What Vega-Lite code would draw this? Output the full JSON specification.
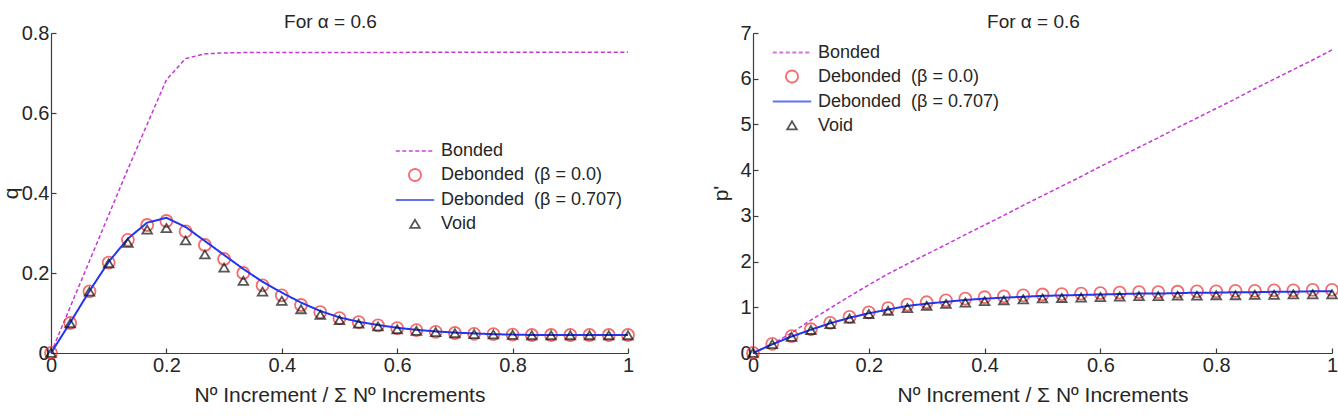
{
  "$schema": "https://vega.github.io/schema/vega-lite/v6.json",
  "padding": {"left": 0, "top": 13, "right": 2, "bottom": 5},
  "config": {
    "font": "Liberation Sans",
    "view": {"stroke": null},
    "axis": {
      "grid": false,
      "domainColor": "#3c3c3c",
      "domainWidth": 1.2,
      "tickColor": "#3c3c3c",
      "tickWidth": 1.2,
      "tickSize": -5,
      "labelFont": "Liberation Sans",
      "labelFontSize": 20,
      "labelColor": "#262626",
      "labelPadding": 7,
      "labelFlush": false,
      "labelOverlap": false,
      "format": "~g",
      "titleFont": "Liberation Sans",
      "titleFontSize": 21,
      "titleFontWeight": "normal",
      "titleColor": "#262626"
    },
    "axisX": {"titlePadding": 9},
    "axisY": {"titlePadding": 0},
    "legend": {
      "labelFont": "Liberation Sans",
      "labelFontSize": 18,
      "labelColor": "#262626",
      "labelOffset": 13,
      "labelLimit": 400,
      "rowPadding": 2,
      "symbolSize": 576,
      "symbolStrokeWidth": 1.8,
      "padding": 0
    },
    "title": {
      "font": "Liberation Sans",
      "fontSize": 19,
      "fontWeight": "normal",
      "color": "#262626",
      "offset": -9,
      "frame": "group",
      "dx": -9
    }
  },
  "datasets": {
    "qSeries": [
      {"x": 0, "b": 0, "d0": 0, "d7": 0, "v": 0},
      {"x": 0.0333, "b": 0.115, "d0": 0.075, "d7": 0.076, "v": 0.074},
      {"x": 0.0667, "b": 0.23, "d0": 0.154, "d7": 0.155, "v": 0.153},
      {"x": 0.1, "b": 0.345, "d0": 0.226, "d7": 0.228, "v": 0.224},
      {"x": 0.1333, "b": 0.46, "d0": 0.283, "d7": 0.286, "v": 0.275},
      {"x": 0.1667, "b": 0.572, "d0": 0.32, "d7": 0.326, "v": 0.308},
      {"x": 0.2, "b": 0.683, "d0": 0.33, "d7": 0.338, "v": 0.312},
      {"x": 0.2333, "b": 0.736, "d0": 0.304, "d7": 0.315, "v": 0.281},
      {"x": 0.2667, "b": 0.748, "d0": 0.27, "d7": 0.28, "v": 0.246},
      {"x": 0.3, "b": 0.75, "d0": 0.235, "d7": 0.245, "v": 0.213},
      {"x": 0.3333, "b": 0.751, "d0": 0.2, "d7": 0.21, "v": 0.18},
      {"x": 0.3667, "b": 0.751, "d0": 0.169, "d7": 0.178, "v": 0.153},
      {"x": 0.4, "b": 0.751, "d0": 0.144, "d7": 0.151, "v": 0.13},
      {"x": 0.4333, "b": 0.751, "d0": 0.12, "d7": 0.126, "v": 0.109},
      {"x": 0.4667, "b": 0.751, "d0": 0.102, "d7": 0.105, "v": 0.095},
      {"x": 0.5, "b": 0.751, "d0": 0.087, "d7": 0.089, "v": 0.082},
      {"x": 0.5333, "b": 0.751, "d0": 0.077, "d7": 0.078, "v": 0.073},
      {"x": 0.5667, "b": 0.751, "d0": 0.069, "d7": 0.07, "v": 0.066},
      {"x": 0.6, "b": 0.751, "d0": 0.062, "d7": 0.063, "v": 0.059},
      {"x": 0.6333, "b": 0.752, "d0": 0.057, "d7": 0.058, "v": 0.055},
      {"x": 0.6667, "b": 0.752, "d0": 0.053, "d7": 0.054, "v": 0.052},
      {"x": 0.7, "b": 0.752, "d0": 0.05, "d7": 0.051, "v": 0.049},
      {"x": 0.7333, "b": 0.752, "d0": 0.048, "d7": 0.049, "v": 0.047},
      {"x": 0.7667, "b": 0.752, "d0": 0.047, "d7": 0.047, "v": 0.046},
      {"x": 0.8, "b": 0.752, "d0": 0.046, "d7": 0.046, "v": 0.045},
      {"x": 0.8333, "b": 0.752, "d0": 0.045, "d7": 0.045, "v": 0.044},
      {"x": 0.8667, "b": 0.752, "d0": 0.045, "d7": 0.045, "v": 0.044},
      {"x": 0.9, "b": 0.752, "d0": 0.045, "d7": 0.045, "v": 0.044},
      {"x": 0.9333, "b": 0.752, "d0": 0.045, "d7": 0.045, "v": 0.044},
      {"x": 0.9667, "b": 0.752, "d0": 0.045, "d7": 0.045, "v": 0.044},
      {"x": 1, "b": 0.752, "d0": 0.045, "d7": 0.045, "v": 0.044}
    ],
    "pSeries": [
      {"x": 0, "b": 0, "d0": 0, "d7": 0, "v": 0},
      {"x": 0.0333, "b": 0.2, "d0": 0.2, "d7": 0.19, "v": 0.19},
      {"x": 0.0667, "b": 0.44, "d0": 0.37, "d7": 0.36, "v": 0.35},
      {"x": 0.1, "b": 0.72, "d0": 0.52, "d7": 0.51, "v": 0.5},
      {"x": 0.1333, "b": 0.98, "d0": 0.66, "d7": 0.65, "v": 0.63},
      {"x": 0.1667, "b": 1.24, "d0": 0.79, "d7": 0.77, "v": 0.75},
      {"x": 0.2, "b": 1.49, "d0": 0.89, "d7": 0.87, "v": 0.85},
      {"x": 0.2333, "b": 1.73, "d0": 0.98, "d7": 0.95, "v": 0.92},
      {"x": 0.2667, "b": 1.95, "d0": 1.06, "d7": 1.03, "v": 0.98},
      {"x": 0.3, "b": 2.16, "d0": 1.11, "d7": 1.08, "v": 1.03},
      {"x": 0.3333, "b": 2.37, "d0": 1.15, "d7": 1.12, "v": 1.07},
      {"x": 0.3667, "b": 2.59, "d0": 1.19, "d7": 1.16, "v": 1.1},
      {"x": 0.4, "b": 2.8, "d0": 1.22, "d7": 1.19, "v": 1.13},
      {"x": 0.4333, "b": 3.01, "d0": 1.24, "d7": 1.21, "v": 1.15},
      {"x": 0.4667, "b": 3.23, "d0": 1.26, "d7": 1.23, "v": 1.17},
      {"x": 0.5, "b": 3.44, "d0": 1.28, "d7": 1.25, "v": 1.19},
      {"x": 0.5333, "b": 3.65, "d0": 1.29, "d7": 1.26, "v": 1.2},
      {"x": 0.5667, "b": 3.86, "d0": 1.3, "d7": 1.27, "v": 1.21},
      {"x": 0.6, "b": 4.08, "d0": 1.31, "d7": 1.28, "v": 1.22},
      {"x": 0.6333, "b": 4.29, "d0": 1.32, "d7": 1.29, "v": 1.23},
      {"x": 0.6667, "b": 4.5, "d0": 1.33, "d7": 1.3, "v": 1.24},
      {"x": 0.7, "b": 4.71, "d0": 1.33, "d7": 1.3, "v": 1.24},
      {"x": 0.7333, "b": 4.93, "d0": 1.34, "d7": 1.31, "v": 1.25},
      {"x": 0.7667, "b": 5.14, "d0": 1.35, "d7": 1.32, "v": 1.25},
      {"x": 0.8, "b": 5.35, "d0": 1.35, "d7": 1.32, "v": 1.26},
      {"x": 0.8333, "b": 5.56, "d0": 1.36, "d7": 1.33, "v": 1.26},
      {"x": 0.8667, "b": 5.78, "d0": 1.36, "d7": 1.33, "v": 1.27},
      {"x": 0.9, "b": 5.99, "d0": 1.37, "d7": 1.34, "v": 1.27},
      {"x": 0.9333, "b": 6.2, "d0": 1.37, "d7": 1.34, "v": 1.28},
      {"x": 0.9667, "b": 6.41, "d0": 1.38, "d7": 1.35, "v": 1.28},
      {"x": 1, "b": 6.63, "d0": 1.38, "d7": 1.35, "v": 1.28}
    ]
  },
  "spacing": 72,
  "resolve": {
    "scale": {"color": "independent", "shape": "independent", "strokeDash": "independent"},
    "legend": {"color": "independent", "shape": "independent", "strokeDash": "independent"}
  },
  "hconcat": [
    {
      "width": 577,
      "height": 320,
      "title": {"text": "For α = 0.6"},
      "data": {"name": "qSeries"},
      "transform": [{"fold": ["b", "d0", "d7", "v"], "as": ["series", "value"]}],
      "encoding": {
        "x": {"field": "x", "type": "quantitative", "scale": {"domain": [0, 1], "nice": false},
              "axis": {"values": [0, 0.2, 0.4, 0.6, 0.8, 1], "title": "Nº Increment / Σ Nº Increments"}},
        "y": {"field": "value", "type": "quantitative", "scale": {"domain": [0, 0.8], "nice": false},
              "axis": {"values": [0, 0.2, 0.4, 0.6, 0.8], "title": "q"}},
        "color": {"field": "series", "type": "nominal",
                  "scale": {"domain": ["b", "d0", "d7", "v"], "range": ["#c638d6", "#f03030", "#2236f0", "#111111"]},
                  "legend": {"title": null, "orient": "none", "legendX": 351, "legendY": 105,
                             "labelExpr": "datum.label === 'b' ? 'Bonded' : datum.label === 'd0' ? 'Debonded\u00a0 (β = 0.0)' : datum.label === 'd7' ? 'Debonded\u00a0 (β = 0.707)' : 'Void'"}}
      },
      "layer": [
        {
          "transform": [{"filter": "datum.series === 'b'"}],
          "mark": {"type": "line", "strokeWidth": 1.5},
          "encoding": {"strokeDash": {"field": "series", "type": "nominal",
            "scale": {"domain": ["b", "d0", "d7", "v"], "range": [[4, 2.5], [1, 0], [1, 0], [1, 0]]},
            "legend": {"title": null, "orient": "none", "legendX": 351, "legendY": 105}}}
        },
        {
          "transform": [{"filter": "datum.series === 'd0'"}],
          "mark": {"type": "point", "filled": false, "strokeWidth": 1.8, "size": 576},
          "encoding": {
            "shape": {"field": "series", "type": "nominal",
              "scale": {"domain": ["b", "d0", "d7", "v"], "range": ["M-1.6,0H1.6", "M-0.5,0A0.5,0.5,0,1,0,0.5,0A0.5,0.5,0,1,0,-0.5,0Z", "M-1.6,0H1.6", "M0,-0.35L0.4,0.32L-0.4,0.32Z"]},
              "legend": {"title": null, "orient": "none", "legendX": 351, "legendY": 105}}
          }
        },
        {
          "transform": [{"filter": "datum.series === 'd7'"}],
          "mark": {"type": "line", "strokeWidth": 2},
          "encoding": {"strokeDash": {"field": "series", "type": "nominal",
            "scale": {"domain": ["b", "d0", "d7", "v"], "range": [[4, 2.5], [1, 0], [1, 0], [1, 0]]},
            "legend": {"title": null, "orient": "none", "legendX": 351, "legendY": 105}}}
        },
        {
          "transform": [{"filter": "datum.series === 'v'"}],
          "mark": {"type": "point", "filled": false, "strokeWidth": 1.8, "size": 576},
          "encoding": {
            "shape": {"field": "series", "type": "nominal",
              "scale": {"domain": ["b", "d0", "d7", "v"], "range": ["M-1.6,0H1.6", "M-0.5,0A0.5,0.5,0,1,0,0.5,0A0.5,0.5,0,1,0,-0.5,0Z", "M-1.6,0H1.6", "M0,-0.35L0.4,0.32L-0.4,0.32Z"]},
              "legend": {"title": null, "orient": "none", "legendX": 351, "legendY": 105}}
          }
        }
      ]
    },
    {
      "width": 579,
      "height": 320,
      "title": {"text": "For α = 0.6"},
      "data": {"name": "pSeries"},
      "transform": [{"fold": ["b", "d0", "d7", "v"], "as": ["series", "value"]}],
      "encoding": {
        "x": {"field": "x", "type": "quantitative", "scale": {"domain": [0, 1], "nice": false},
              "axis": {"values": [0, 0.2, 0.4, 0.6, 0.8, 1], "title": "Nº Increment / Σ Nº Increments"}},
        "y": {"field": "value", "type": "quantitative", "scale": {"domain": [0, 7], "nice": false},
              "axis": {"values": [0, 1, 2, 3, 4, 5, 6, 7], "title": "p'", "titlePadding": 8}},
        "color": {"field": "series", "type": "nominal",
                  "scale": {"domain": ["b", "d0", "d7", "v"], "range": ["#c638d6", "#f03030", "#2236f0", "#111111"]},
                  "legend": {"title": null, "orient": "none", "legendX": 26, "legendY": 6.5,
                             "labelExpr": "datum.label === 'b' ? 'Bonded' : datum.label === 'd0' ? 'Debonded\u00a0 (β = 0.0)' : datum.label === 'd7' ? 'Debonded\u00a0 (β = 0.707)' : 'Void'"}}
      },
      "layer": [
        {
          "transform": [{"filter": "datum.series === 'b'"}],
          "mark": {"type": "line", "strokeWidth": 1.5},
          "encoding": {"strokeDash": {"field": "series", "type": "nominal",
            "scale": {"domain": ["b", "d0", "d7", "v"], "range": [[4, 2.5], [1, 0], [1, 0], [1, 0]]},
            "legend": {"title": null, "orient": "none", "legendX": 26, "legendY": 6.5}}}
        },
        {
          "transform": [{"filter": "datum.series === 'd0'"}],
          "mark": {"type": "point", "filled": false, "strokeWidth": 1.8, "size": 576},
          "encoding": {
            "shape": {"field": "series", "type": "nominal",
              "scale": {"domain": ["b", "d0", "d7", "v"], "range": ["M-1.6,0H1.6", "M-0.5,0A0.5,0.5,0,1,0,0.5,0A0.5,0.5,0,1,0,-0.5,0Z", "M-1.6,0H1.6", "M0,-0.35L0.4,0.32L-0.4,0.32Z"]},
              "legend": {"title": null, "orient": "none", "legendX": 26, "legendY": 6.5}}
          }
        },
        {
          "transform": [{"filter": "datum.series === 'd7'"}],
          "mark": {"type": "line", "strokeWidth": 2},
          "encoding": {"strokeDash": {"field": "series", "type": "nominal",
            "scale": {"domain": ["b", "d0", "d7", "v"], "range": [[4, 2.5], [1, 0], [1, 0], [1, 0]]},
            "legend": {"title": null, "orient": "none", "legendX": 26, "legendY": 6.5}}}
        },
        {
          "transform": [{"filter": "datum.series === 'v'"}],
          "mark": {"type": "point", "filled": false, "strokeWidth": 1.8, "size": 576},
          "encoding": {
            "shape": {"field": "series", "type": "nominal",
              "scale": {"domain": ["b", "d0", "d7", "v"], "range": ["M-1.6,0H1.6", "M-0.5,0A0.5,0.5,0,1,0,0.5,0A0.5,0.5,0,1,0,-0.5,0Z", "M-1.6,0H1.6", "M0,-0.35L0.4,0.32L-0.4,0.32Z"]},
              "legend": {"title": null, "orient": "none", "legendX": 26, "legendY": 6.5}}
          }
        }
      ]
    }
  ]
}
